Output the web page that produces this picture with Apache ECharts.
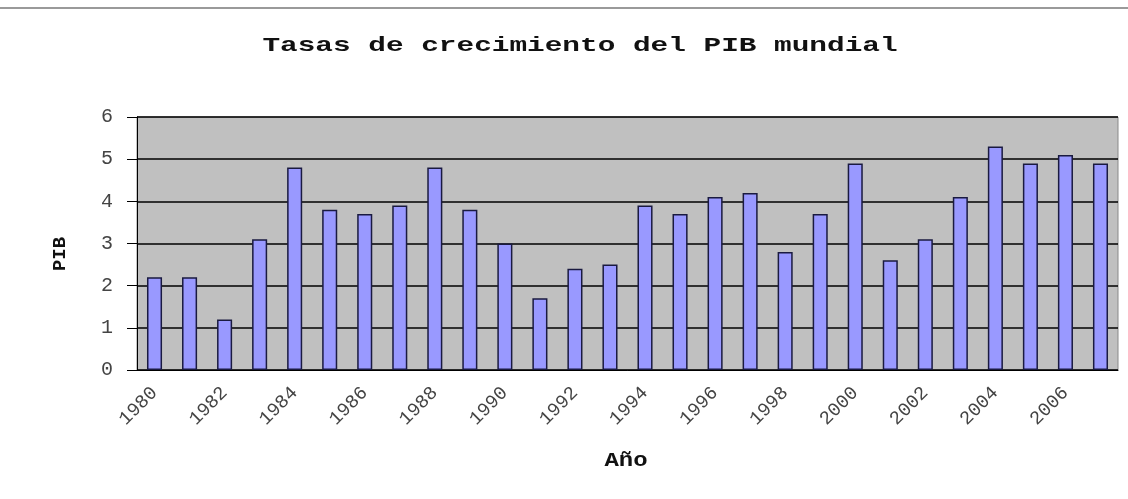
<!DOCTYPE html>
<html>
<head>
<meta charset="utf-8">
<script src="https://cdn.jsdelivr.net/npm/echarts@6/dist/echarts.min.js"></script>
<style>
  html, body { margin: 0; padding: 0; background: #fff; }
  #main { width: 1128px; height: 499px; }
  .topline { position: absolute; left: 0; top: 7px; width: 1128px; height: 2px; background: #9a9a9a; }
</style>
</head>
<body>
<div class="topline"></div>
<div id="main"></div>
<script>
let years = ['1980', '1981', '1982', '1983', '1984', '1985', '1986', '1987', '1988', '1989',
  '1990', '1991', '1992', '1993', '1994', '1995', '1996', '1997', '1998', '1999',
  '2000', '2001', '2002', '2003', '2004', '2005', '2006', '2007'];
let pib = [2.2, 2.2, 1.2, 3.1, 4.8, 3.8, 3.7, 3.9, 4.8, 3.8,
  3.0, 1.7, 2.4, 2.5, 3.9, 3.7, 4.1, 4.2, 2.8, 3.7,
  4.9, 2.6, 3.1, 4.1, 5.3, 4.9, 5.1, 4.9];

let myChart = echarts.init(document.getElementById('main'));
const mono = '"Liberation Mono", "DejaVu Sans Mono", monospace';

let option = {
  animation: false,
  // title and axis names drawn as graphic text so the wide Courier look can be approximated
  graphic: [
    {
      type: 'text',
      x: 580,
      y: 46,
      scaleX: 1.4,
      style: {
        text: 'Tasas de crecimiento del PIB mundial',
        font: 'bold 21px ' + mono,
        fill: '#111',
        align: 'center',
        verticalAlign: 'middle'
      }
    },
    {
      type: 'text',
      x: 60,
      y: 254,
      rotation: Math.PI / 2,
      style: {
        text: 'PIB',
        font: 'bold 19px ' + mono,
        fill: '#111',
        align: 'center',
        verticalAlign: 'middle'
      }
    },
    {
      type: 'text',
      x: 626,
      y: 461,
      scaleX: 1.2,
      style: {
        text: 'Año',
        font: 'bold 20px ' + mono,
        fill: '#111',
        align: 'center',
        verticalAlign: 'middle'
      }
    }
  ],
  grid: {
    left: 137,
    right: 10,
    top: 117,
    bottom: 129,
    show: true,
    backgroundColor: '#c0c0c0',
    borderColor: '#8a8a8a',
    borderWidth: 1
  },
  xAxis: {
    type: 'category',
    data: years,
    axisLine: { lineStyle: { color: '#000', width: 1 } },
    axisTick: { interval: 0, length: 5, lineStyle: { color: '#000' } },
    axisLabel: {
      interval: 1,
      rotate: 45,
      margin: 20,
      fontFamily: mono,
      fontSize: 19,
      color: '#444'
    }
  },
  yAxis: {
    type: 'value',
    min: 0,
    max: 6,
    interval: 1,
    axisLine: { show: true, lineStyle: { color: '#000', width: 1 } },
    axisTick: { show: true, length: 10, lineStyle: { color: '#000' } },
    axisLabel: { fontFamily: mono, fontSize: 20, color: '#444', margin: 24 },
    splitLine: { lineStyle: { color: '#000', width: 1.5 } }
  },
  series: [
    {
      name: 'PIB',
      type: 'bar',
      data: pib,
      barWidth: '43%',
      itemStyle: { color: '#9999ff', borderColor: '#1a1a40', borderWidth: 1.5 }
    }
  ]
};

myChart.setOption(option);
</script>
</body>
</html>
